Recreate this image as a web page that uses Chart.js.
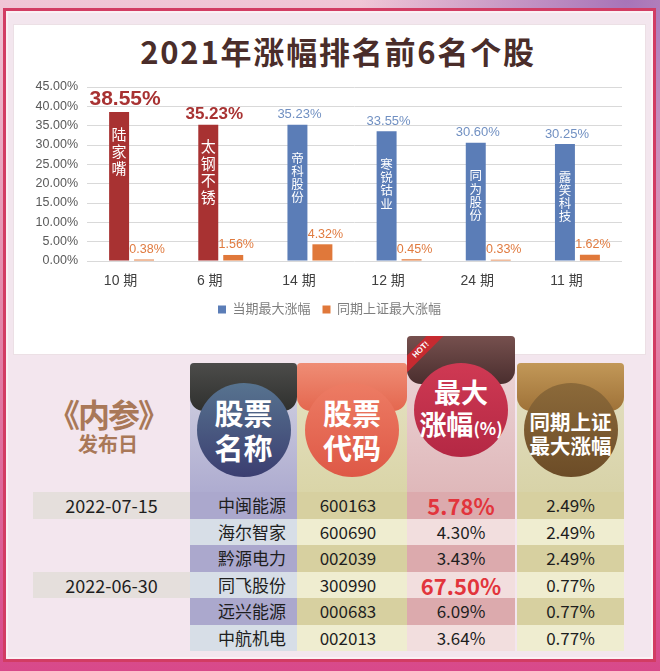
<!DOCTYPE html>
<html>
<head>
<meta charset="utf-8">
<script src="https://cdn.jsdelivr.net/npm/chart.js@4"></script>
<style>
body{margin:0;width:660px;height:671px;overflow:hidden;position:relative;font-family:'Noto Sans CJK SC',sans-serif;
  background:radial-gradient(ellipse at 95% 0%, #a774b8 0%, rgba(167,116,184,0) 30%),linear-gradient(180deg,#f0c6d6 0%,#e488aa 45%,#d8498a 100%);}
.abs{position:absolute;box-sizing:border-box;}
#frame{left:3px;top:8px;width:653px;height:654px;border:3px solid #d23c63;background:#f3e6ee;box-shadow:inset 0 0 0 2px #fbf0f4;}
#panel{left:13px;top:24px;width:633px;height:331px;background:#fff;border:1px solid #ece0e5;}
#title{left:13px;top:29px;width:633px;padding-left:17px;text-align:center;font-size:31px;font-weight:bold;color:#4a2d2a;letter-spacing:1.8px;line-height:44px;}
#chart{left:13px;top:66px;}
.tab{border-radius:4px 4px 14px 14px;}
.circ{border-radius:50%;width:94px;height:94px;color:#fff;font-weight:bold;text-align:center;display:flex;flex-direction:column;justify-content:center;}
.cell{height:26.5px;line-height:26.5px;font-size:17px;color:#1e1e1e;text-align:center;}
</style>
</head>
<body>
<div id="frame" class="abs"></div>
<div id="panel" class="abs"></div>
<div id="title" class="abs">2021年涨幅排名前6名个股</div>
<canvas id="chart" class="abs" width="633" height="264"></canvas>

<div class="abs" style="left:30px;top:394px;width:156px;text-align:center;color:#a97858;font-weight:bold;font-size:32px;line-height:38px;letter-spacing:-2px;">《内参》</div>
<div class="abs" style="left:30px;top:431px;width:156px;text-align:center;color:#a97858;font-weight:bold;font-size:20px;line-height:26px;">发布日</div>

<div id="head"></div>
<div id="rows"></div>

<script>
// 柱状图数据
const periods = ['10 期', '6 期', '14 期', '12 期', '24 期', '11 期'];
const stockNames = ['陆家嘴', '太钢不锈', '帝科股份', '寒锐钴业', '同为股份', '露笑科技'];
const maxRise = [38.55, 35.23, 35.23, 33.55, 30.60, 30.25];
const indexRise = [0.38, 1.56, 4.32, 0.45, 0.33, 1.62];
const isTop = [true, true, false, false, false, false];

// 表格数据
const pubDates = ['2022-07-15', '', '', '2022-06-30', '', ''];
const tblNames = ['中闽能源', '海尔智家', '黔源电力', '同飞股份', '远兴能源', '中航机电'];
const tblCodes = ['600163', '600690', '002039', '300990', '000683', '002013'];
const tblMax = ['5.78%', '4.30%', '3.43%', '67.50%', '6.09%', '3.64%'];
const tblIndex = ['2.49%', '2.49%', '2.49%', '0.77%', '0.77%', '0.77%'];
const tblHot = [true, false, false, true, false, false];

const RED = '#a83232', BLUE = '#5b7db7', ORANGE = '#e0783a';

Chart.defaults.font.family = "'Liberation Sans','Noto Sans CJK SC',sans-serif";

// 数值标签和柱内股票名称
const barLabels = {
    id: 'barLabels',
    afterDatasetsDraw(chart) {
        const c = chart.ctx;
        const m0 = chart.getDatasetMeta(0), m1 = chart.getDatasetMeta(1);
        c.save();
        c.textAlign = 'center';
        c.textBaseline = 'middle';
        m0.data.forEach((bar, i) => {
            const top = bar.y;
            if (isTop[i]) {
                const sz = i === 0 ? 21 : 17;
                c.font = 'bold ' + sz + "px 'Liberation Sans'";
                c.fillStyle = RED;
                c.fillText(maxRise[i].toFixed(2) + '%', bar.x + 6, top - sz / 2 - 2);
            } else {
                c.font = "13px 'Liberation Sans'";
                c.fillStyle = '#7190c2';
                c.fillText(maxRise[i].toFixed(2) + '%', bar.x + 2, top - 10);
            }
            const fs = isTop[i] ? 15 : 12.5, step = isTop[i] ? 17 : 13.2, off = isTop[i] ? 22 : 33;
            c.font = fs + "px 'Noto Sans CJK SC'";
            c.fillStyle = '#fff';
            [...stockNames[i]].forEach((ch, k) => c.fillText(ch, bar.x, top + off + k * step));
        });
        m1.data.forEach((bar, i) => {
            c.font = "12.5px 'Liberation Sans'";
            c.fillStyle = '#e07b40';
            c.fillText(indexRise[i].toFixed(2) + '%', bar.x + 3, bar.y - 10);
        });
        c.restore();
    }
};

new Chart(document.getElementById('chart'), {
    type: 'bar',
    data: {
        labels: periods,
        datasets: [
            {label: '当期最大涨幅', data: maxRise, categoryPercentage: 0.56, barPercentage: 0.8,
             backgroundColor: ctx => (ctx.type === 'data' && isTop[ctx.dataIndex]) ? RED : BLUE},
            {label: '同期上证最大涨幅', data: indexRise, categoryPercentage: 0.56, barPercentage: 0.8,
             backgroundColor: ORANGE}
        ]
    },
    options: {
        responsive: false,
        animation: false,
        layout: {padding: {top: 21, right: 0, left: 0, bottom: 4}},
        scales: {
            x: {
                grid: {display: false},
                border: {display: false},
                ticks: {color: '#404040', font: {size: 14}, labelOffset: -11, padding: 4},
                afterFit: s => { s.height = 30; }
            },
            y: {
                min: 0, max: 45,
                ticks: {stepSize: 5, autoSkip: false, color: '#595959', font: {size: 12.5}, padding: 9,
                        callback: v => v.toFixed(2) + '%'},
                grid: {color: '#d9d9d9', drawTicks: false},
                border: {display: false},
                afterFit: s => { s.width = 74; }
            },
            // 右侧留白
            yr: {
                position: 'right',
                ticks: {display: false},
                grid: {display: false},
                border: {display: false},
                afterFit: s => { s.width = 24; }
            }
        },
        plugins: {
            legend: {
                position: 'bottom',
                labels: {
                    boxWidth: 8, boxHeight: 8, color: '#7f7f7f', font: {size: 13}, padding: 12,
                    generateLabels: chart => Chart.defaults.plugins.legend.labels.generateLabels(chart)
                        .map((l, i) => Object.assign(l, {fillStyle: i === 0 ? BLUE : ORANGE, lineWidth: 0}))
                }
            },
            tooltip: {enabled: false}
        }
    },
    plugins: [barLabels]
});

// 表头
const cols = [
    {x: 190, w: 107, tabTop: 363, circTop: 383, tab: 'linear-gradient(#4c4c4a,#2f302e)', circ: 'linear-gradient(#57738f,#3b3e71)', body: 'linear-gradient(#d5d5e3,#aeacd0)', html: '<div style="font-size:29px;line-height:35px">股票<br>名称</div>'},
    {x: 297, w: 110, tabTop: 363, circTop: 383, tab: 'linear-gradient(#ef8d75,#e4674f)', circ: 'linear-gradient(#ed7c64,#de5846)', body: 'linear-gradient(#e6e2c4,#dad5a8)', html: '<div style="font-size:29px;line-height:35px">股票<br>代码</div>'},
    {x: 407, w: 108, tabTop: 336, circTop: 363, tab: 'linear-gradient(#76504e,#4a2e2e)', circ: 'linear-gradient(#cf3953,#b42844)', body: 'linear-gradient(#eed9db,#dfb8ba)', html: '<div style="font-size:27px;line-height:32px">最大<br>涨幅<span style="font-size:17px">(%)</span></div>'},
    {x: 517, w: 107, tabTop: 363, circTop: 383, tab: 'linear-gradient(#c29858,#9f7238)', circ: 'linear-gradient(#8c6a3a,#6c4c27)', body: 'linear-gradient(#e4e0c4,#d8d3a8)', html: '<div style="font-size:20.5px;line-height:24px;margin-top:6px">同期上证<br>最大涨幅</div>'}
];
const head = document.getElementById('head');
cols.forEach((c, i) => {
    let h = '<div class="abs" style="left:' + c.x + 'px;top:' + c.tabTop + 'px;width:' + c.w + 'px;height:' + (492 - c.tabTop) + 'px;background:' + c.body + ';border-radius:4px 4px 0 0"></div>';
    h += '<div class="abs tab" style="left:' + c.x + 'px;top:' + c.tabTop + 'px;width:' + c.w + 'px;height:48px;background:' + c.tab + '"></div>';
    if (i === 2) {
        h += '<div class="abs" style="left:' + c.x + 'px;top:' + c.tabTop + 'px;width:40px;height:40px;overflow:hidden;border-radius:4px 0 0 0">' +
             '<div style="position:absolute;left:-18px;top:8px;width:64px;height:12px;background:#c62a30;transform:rotate(-45deg);color:#fff;font-size:8px;line-height:12px;text-align:center;font-family:\'Liberation Sans\';font-weight:bold">HOT!</div></div>';
    }
    h += '<div class="abs circ" style="left:' + (c.x + (c.w - 94) / 2) + 'px;top:' + c.circTop + 'px;background:' + c.circ + '">' + c.html + '</div>';
    head.insertAdjacentHTML('beforeend', h);
});

// 表格行
const rowBg = [['#aba8cd', '#d7dee7'], ['#d7d0a0', '#efedd0'], ['#dcaaad', '#f2dede'], ['#d7d0a0', '#efedd0']];
const rows = document.getElementById('rows');
tblNames.forEach((name, r) => {
    const y = 492 + r * 26.5;
    const k = r % 2;
    let h = '';
    if (pubDates[r]) {
        h += '<div class="abs cell" style="left:33px;top:' + y + 'px;width:157px;background:#e5dfdc;font-size:18px">' + pubDates[r] + '</div>';
    }
    const vals = [name, tblCodes[r], tblMax[r], tblIndex[r]];
    cols.forEach((c, j) => {
        let st = 'left:' + c.x + 'px;top:' + y + 'px;width:' + c.w + 'px;background:' + rowBg[j][k] + ';';
        if (j === 0) st += 'text-align:right;padding-right:11px;';
        if (j === 1) st += 'padding-right:8px;';
        if (j === 2 && tblHot[r]) st += 'color:#e2343c;font-weight:bold;font-size:22px;';
        h += '<div class="abs cell" style="' + st + '">' + vals[j] + '</div>';
    });
    rows.insertAdjacentHTML('beforeend', h);
});
</script>
</body>
</html>
